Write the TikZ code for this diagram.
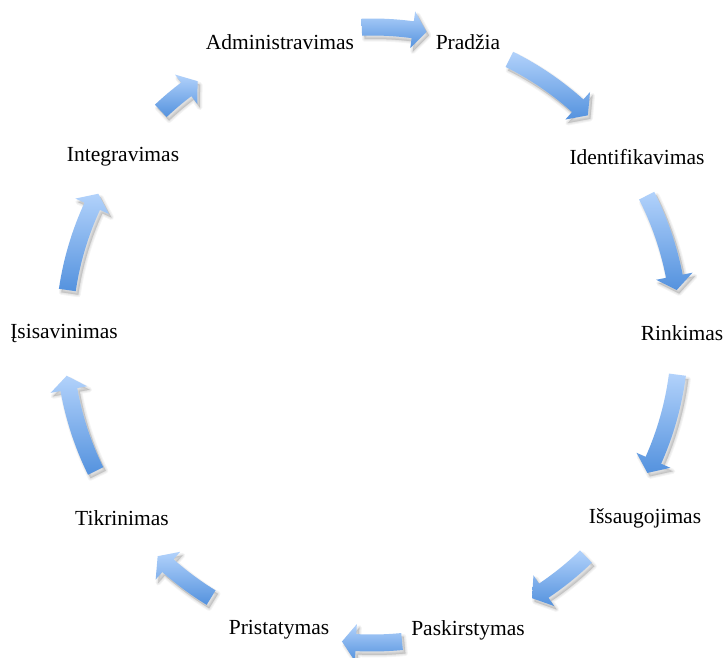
\documentclass[tikz,border=0pt]{standalone}
\usepackage{fontspec}
\setmainfont{Liberation Serif}

\definecolor{arrowtop}{RGB}{178,210,251}
\definecolor{arrowbot}{RGB}{84,146,222}

\tikzset{
  steptext/.style={inner sep=0pt, font=\fontsize{21.5}{26}\selectfont, text=black},
  cyclearrow/.style={top color=arrowtop, bottom color=arrowbot, draw=none},
  softshadow/.style={fill=black, draw=black, line join=round,
    fill opacity=0.045, draw opacity=0.045, line width=#1},
}

% Outline of a clockwise block arrow on the ring: start angle #1, tip angle #2
\newcommand{\ringpath}[2]{%
    (#1:316.5) arc[start angle=#1, end angle=#2+2.6, radius=316.5]
    -- (#2+2.6:326.5) -- (#2:308) -- (#2+2.6:289.5)
    -- (#2+2.6:299.5) arc[start angle=#2+2.6, end angle=#1, radius=299.5]
    -- cycle
}

% Block arrow with a soft drop shadow below right
\newcommand{\ringarrow}[2]{%
  \begin{scope}[shift={(2.5,-3.5)}]
    \path[softshadow=5pt] \ringpath{#1}{#2};
    \path[softshadow=3pt] \ringpath{#1}{#2};
    \path[softshadow=1pt] \ringpath{#1}{#2};
  \end{scope}
  \shade[cyclearrow] \ringpath{#1}{#2};
}

\begin{document}
\begin{tikzpicture}[x=1pt,y=1pt]
  \useasboundingbox (0,0) rectangle (723,657);
  \fill[white] (0,0) rectangle (723,657);

  \coordinate (C) at (372,322);

  % stage labels
  \node[steptext] (adm) at (280,615) {Administravimas};
  \node[steptext] (pra) at (468,615) {Pradžia};
  \node[steptext] (ide) at (637,500) {Identifikavimas};
  \node[steptext] (rin) at (682,324) {Rinkimas};
  \node[steptext] (iss) at (645,139) {Išsaugojimas};
  \node[steptext] (pas) at (468,27)  {Paskirstymas};
  \node[steptext] (pri) at (279,27)  {Pristatymas};
  \node[steptext] (tik) at (122,139) {Tikrinimas};
  \node[steptext] (isi) at (64,324)  {Įsisavinimas};
  \node[steptext] (int) at (123,500) {Integravimas};

  % arrows around the ring
  \begin{scope}[shift={(C)}]
    \ringarrow{91.9}{79.8}    % Administravimas -> Pradžia
    \ringarrow{63.5}{45.5}    % Pradžia -> Identifikavimas
    \ringarrow{26.9}{8.4}     % Identifikavimas -> Rinkimas
    \ringarrow{-7.4}{-26.6}   % Rinkimas -> Išsaugojimas
    \ringarrow{-46.0}{-58.7}  % Išsaugojimas -> Paskirstymas
    \ringarrow{-84.4}{-95.6}  % Paskirstymas -> Pristatymas
    \ringarrow{-121.5}{-134.1}% Pristatymas -> Tikrinimas
    \ringarrow{-153.8}{-172.4}% Tikrinimas -> Įsisavinimas
    \ringarrow{171.6}{152.7}  % Įsisavinimas -> Integravimas
    \ringarrow{133.3}{124.5}  % Integravimas -> Administravimas
  \end{scope}
\end{tikzpicture}
\end{document}
